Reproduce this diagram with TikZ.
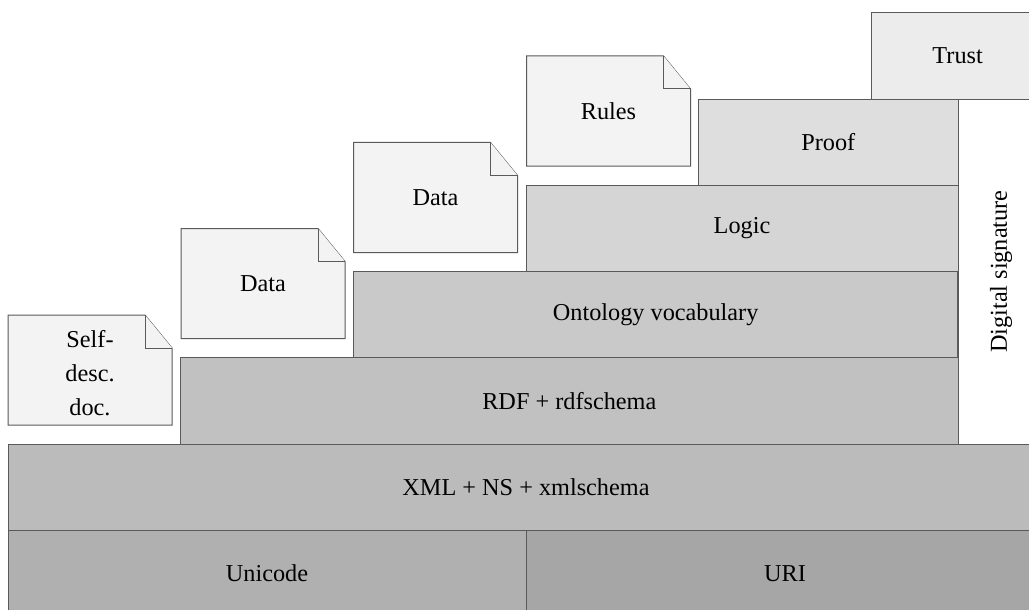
\documentclass[tikz,border=0pt]{standalone}
\usepackage{fontspec}
\setmainfont{Liberation Serif}
\definecolor{uniFill}{HTML}{B0B0B0}
\definecolor{uriFill}{HTML}{A6A6A6}
\definecolor{xmlFill}{HTML}{BBBBBB}
\definecolor{rdfFill}{HTML}{C1C1C1}
\definecolor{ontoFill}{HTML}{C9C9C9}
\definecolor{logicFill}{HTML}{D5D5D5}
\definecolor{proofFill}{HTML}{DEDEDE}
\definecolor{trustFill}{HTML}{ECECEC}
\definecolor{docFill}{HTML}{F3F3F3}
\definecolor{edge}{HTML}{5A5A5A}
\tikzset{
  layer/.style={rectangle, draw=edge, line width=0.75pt, inner sep=0pt, outer sep=0pt,
    minimum height=64.65pt, font=\fontsize{18.2}{21}\selectfont},
  docnode/.style={rectangle, inner sep=0pt, outer sep=0pt, minimum width=123pt,
    minimum height=82.5pt, align=center, font=\fontsize{18.2}{25.5}\selectfont},
  docline/.style={draw=edge, line width=0.75pt, fill=docFill, line join=miter}
}
% dog-eared page outline around a named node
\newcommand\dogear[1]{%
  \draw[docline] (#1.north west) -- ([xshift=-20.25pt]#1.north east)
    -- ([yshift=-24.75pt]#1.north east) -- (#1.south east) -- (#1.south west) -- cycle;
  \draw[docline] ([xshift=-20.25pt]#1.north east) |- ([yshift=-24.75pt]#1.north east);
}
\begin{document}
\begin{tikzpicture}[x=0.75pt, y=-0.75pt]
\useasboundingbox (0,0) rectangle (1029,610);
\clip (0,0) rectangle (1029,610);
\fill[white] (0,0) rectangle (1029,610);

% layer stack
\node[layer, fill=uniFill, minimum width=388.5pt] (unicode) at (267,573.3) {Unicode};
\node[layer, fill=uriFill, minimum width=388.5pt] (uri) at (785,573.3) {URI};
\node[layer, fill=xmlFill, minimum width=777pt] (xml) at (526,487.1) {XML + NS + xmlschema};
\node[layer, fill=rdfFill, minimum width=583pt] (rdf) at (569.35,400.9) {RDF + rdfschema};
\node[layer, fill=ontoFill, minimum width=453.5pt] (onto) at (655.65,314.7) {Ontology vocabulary};
\node[layer, fill=logicFill, minimum width=324pt] (logic) at (742,228.5) {Logic};
\node[layer, fill=proofFill, minimum width=194.5pt] (proof) at (828.35,142.3) {Proof};
\node[layer, fill=trustFill, minimum width=129.5pt] (trust) at (957.65,56.1) {Trust};
\node[layer, fill=white, minimum width=64.5pt, minimum height=258.6pt] (sig) at (1001,271.6) {};
\node[rotate=90, font=\fontsize{18.2}{21}\selectfont] (sigtext) at (sig.center) {Digital signature};

% documents
\node[docnode] (self) at (90,370) {};
\dogear{self}
\node[docnode] at ([yshift=-2pt]self.center) (selftext) {Self-\\desc.\\doc.};
\node[docnode] (data1) at (263,283.5) {};
\dogear{data1}
\node[docnode] at (data1.center) (data1text) {Data};
\node[docnode] (data2) at (435.5,197.5) {};
\dogear{data2}
\node[docnode] at (data2.center) (data2text) {Data};
\node[docnode] (rules) at (608.5,111) {};
\dogear{rules}
\node[docnode] at (rules.center) (rulestext) {Rules};
\end{tikzpicture}
\end{document}
